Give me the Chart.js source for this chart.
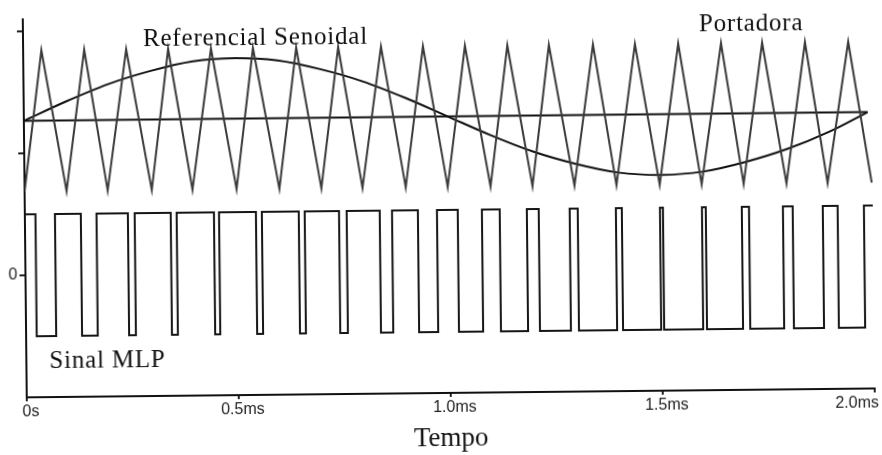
<!DOCTYPE html>
<html>
<head>
<meta charset="utf-8">
<script src="https://cdn.jsdelivr.net/npm/chart.js@4.4.1/dist/chart.umd.min.js"></script>
<style>
  html, body { margin: 0; padding: 0; background: #fff; overflow: hidden; }
  #wrap { width: 882px; height: 455px; }
  /* the source is a slightly skewed scan */
  #chart { transform: rotate(-0.6deg); transform-origin: 50% 50%; }
</style>
</head>
<body>
<div id="wrap"><canvas id="chart" width="882" height="455"></canvas></div>
<script>
// Axis ticks (time in ms)
const xTickValues = [0, 0.5, 1.0, 1.5, 2.0];
const xTickLabels = ['0s', '0.5ms', '1.0ms', '1.5ms', '2.0ms'];
const yTickValues = [0, 2, 4];
const yTickLabels = ['0', '', ''];

// Portadora — triangle vertices
const carrierTimes = [0,
  0.043, 0.099, 0.144, 0.196, 0.243, 0.300, 0.342, 0.396, 0.443, 0.500,
  0.542, 0.601, 0.644, 0.700, 0.743, 0.797, 0.844, 0.899, 0.943, 0.998,
  1.042, 1.099, 1.142, 1.198, 1.240, 1.297, 1.344, 1.396, 1.443, 1.498,
  1.545, 1.597, 1.646, 1.696, 1.743, 1.797, 1.844, 1.894, 1.946, 1.998];
const carrierValues = [-1,
  1, -1, 1, -1, 1, -1, 1, -1, 1, -1,
  1, -1, 1, -1, 1, -1, 1, -1, 1, -1,
  1, -1, 1, -1, 1, -1, 1, -1, 1, -1,
  1, -1, 1, -1, 1, -1, 1, -1, 1, -1];

// Referencial senoidal
const sineTimes  = [0, 0.1, 0.2, 0.3, 0.4, 0.5, 0.6, 0.7, 0.8, 0.9, 1.0,
                    1.1, 1.2, 1.3, 1.4, 1.5, 1.6, 1.7, 1.8, 1.9, 1.99];
const sineValues = [0, 0.27, 0.51, 0.69, 0.82, 0.86, 0.82, 0.69, 0.51, 0.27, 0,
                    -0.27, -0.51, -0.69, -0.82, -0.86, -0.82, -0.69, -0.51, -0.27, 0];

// zero line of the upper trace
const midTimes  = [0, 1.99];
const midValues = [0, 0];

// Sinal MLP — switching instants and level after each one
const pwmTimes = [0, 0.025, 0.071, 0.132, 0.169, 0.243, 0.259, 0.344, 0.358, 0.446, 0.458,
  0.545, 0.559, 0.646, 0.660, 0.741, 0.759, 0.837, 0.866, 0.927, 0.972,
  1.021, 1.078, 1.120, 1.184, 1.212, 1.285, 1.304, 1.394, 1.408, 1.498,
  1.505, 1.597, 1.606, 1.691, 1.708, 1.788, 1.811, 1.882, 1.917, 1.979, 2.0];
const pwmLevels = [1, -1, 1, -1, 1, -1, 1, -1, 1, -1, 1,
  -1, 1, -1, 1, -1, 1, -1, 1, -1, 1,
  -1, 1, -1, 1, -1, 1, -1, 1, -1, 1,
  -1, 1, -1, 1, -1, 1, -1, 1, -1, 1, 1];

const pts = (xs, ys) => xs.map((x, i) => ({ x, y: ys[i] }));

const SERIF = '"Liberation Serif", "Times New Roman", serif';
const SANS  = '"Liberation Sans", Arial, sans-serif';

// text notes on the plot
const notes = [
  { text: 'Referencial Senoidal', x: 145, y: 43 },
  { text: 'Portadora',            x: 701, y: 34 },
  { text: 'Sinal MLP',            x: 48,  y: 364 },
];

const notesPlugin = {
  id: 'notes',
  afterDraw(chart) {
    const { ctx, scales: { x }, chartArea } = chart;
    ctx.save();
    ctx.fillStyle = '#111';
    ctx.textBaseline = 'alphabetic';
    ctx.textAlign = 'left';
    ctx.font = '25px ' + SERIF;
    if ('letterSpacing' in ctx) ctx.letterSpacing = '0.8px';
    notes.forEach(n => ctx.fillText(n.text, n.x, n.y));
    if ('letterSpacing' in ctx) ctx.letterSpacing = '0px';

    // x tick labels, last one pulled inside the canvas
    ctx.font = '16px ' + SANS;
    ctx.fillStyle = '#222';
    ctx.textBaseline = 'middle';
    xTickValues.forEach((v, i) => {
      const px = x.getPixelForValue(v);
      const last = i === xTickValues.length - 1;
      ctx.textAlign = last ? 'right' : 'center';
      ctx.fillText(xTickLabels[i], last ? px + 4 : px + 4, chartArea.bottom + 15);
    });
    ctx.restore();
  },
};

const line = (color, width) => ({
  borderColor: color, borderWidth: width, pointRadius: 0, fill: false, tension: 0,
});

new Chart(document.getElementById('chart').getContext('2d'), {
  type: 'line',
  data: {
    datasets: [
      { label: 'Portadora', data: pts(carrierTimes, carrierValues), yAxisID: 'y2', ...line('#3a3a3a', 2) },
      { label: 'Referencial Senoidal', data: pts(sineTimes, sineValues), yAxisID: 'y2',
        ...line('#111', 2), cubicInterpolationMode: 'monotone' },
      { label: 'zero', data: pts(midTimes, midValues), yAxisID: 'y2', ...line('#111', 2) },
      { label: 'Sinal MLP', data: pts(pwmTimes, pwmLevels), yAxisID: 'y', ...line('#151515', 2), stepped: 'before' },
    ],
  },
  options: {
    responsive: false,
    animation: false,
    events: [],
    layout: { padding: { left: 0, right: 9, top: 15, bottom: 0 } },
    plugins: { legend: { display: false }, tooltip: { enabled: false } },
    scales: {
      x: {
        type: 'linear', min: 0, max: 2,
        afterBuildTicks: s => { s.ticks = xTickValues.map(v => ({ value: v })); },
        afterFit: s => { s.height = 62; },
        ticks: { display: false },
        grid: { drawOnChartArea: false, drawTicks: true, tickLength: 4, color: '#222', lineWidth: 2 },
        border: { display: true, color: '#111', width: 2 },
        title: { display: true, text: 'Tempo', color: '#111',
                 font: { family: SERIF, size: 27, lineHeight: 1.2 }, padding: { top: 0, bottom: 0 } },
      },
      y: {
        position: 'left', min: -2, max: 4.2,
        afterBuildTicks: s => { s.ticks = yTickValues.map(v => ({ value: v })); },
        afterFit: s => { s.width = 25; },
        ticks: { callback: (v, i) => yTickLabels[i], color: '#222', padding: 2,
                 font: { family: SANS, size: 16 } },
        grid: { drawOnChartArea: false, drawTicks: true, tickLength: 6, color: '#222', lineWidth: 2 },
        border: { display: true, color: '#111', width: 2 },
      },
      y2: { display: false, min: -3.92, max: 1.44 },
    },
  },
  plugins: [notesPlugin],
});
</script>
</body>
</html>
